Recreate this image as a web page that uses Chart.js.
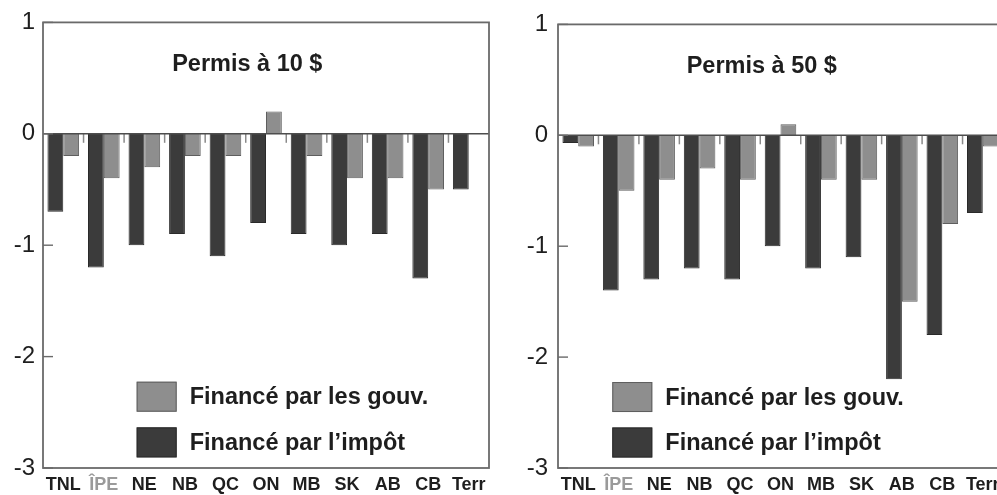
<!DOCTYPE html>
<html>
<head>
<meta charset="utf-8">
<script src="https://cdn.jsdelivr.net/npm/chart.js@4.4.1/dist/chart.umd.min.js"></script>
<style>
  html, body { margin: 0; padding: 0; background: #ffffff; overflow: hidden; }
  body { width: 997px; height: 495px; position: relative; }
  .box { position: absolute; top: 0; height: 495px; }
  #b1 { left: 0; width: 492px; }
  #b2 { left: 500px; width: 506px; }
</style>
</head>
<body>
<div class="box" id="b1"><canvas id="c1"></canvas></div>
<div class="box" id="b2"><canvas id="c2"></canvas></div>
<script>
// ---- data ----
const categories = ['TNL', 'ÎPE', 'NE', 'NB', 'QC', 'ON', 'MB', 'SK', 'AB', 'CB', 'Terr'];
const yTicks = [1, 0, -1, -2, -3];
const seriesLabels = ['Financé par l\u2019impôt', 'Financé par les gouv.'];
const titles = ['Permis à 10 $', 'Permis à 50 $'];

const permis10Impot = [-0.7, -1.2, -1.0, -0.9, -1.1, -0.8, -0.9, -1.0, -0.9, -1.3, -0.5];
const permis10Gouv  = [-0.2, -0.4, -0.3, -0.2, -0.2,  0.2, -0.2, -0.4, -0.4, -0.5,  0.0];
const permis50Impot = [-0.07, -1.4, -1.3, -1.2, -1.3, -1.0, -1.2, -1.1, -2.2, -1.8, -0.7];
const permis50Gouv  = [-0.1, -0.5, -0.4, -0.3, -0.4,  0.1, -0.4, -0.4, -1.5, -0.8, -0.1];

// ---- styles ----
const DARK = '#3b3b3b';
const LIGHT = '#8e8e8e';
const TEXT = '#1e1e1e';
const FONT = "'Liberation Sans', Arial, sans-serif";

const decorPlugin = {
  id: 'decor',
  afterDatasetsDraw(chart, args, opts) {
    const ctx = chart.ctx, a = chart.chartArea;
    const x = chart.scales.x, y = chart.scales.y;
    const line = (x1, y1, x2, y2) => { ctx.beginPath(); ctx.moveTo(x1, y1); ctx.lineTo(x2, y2); ctx.stroke(); };
    ctx.save();
    // category separator ticks at zero
    const y0 = y.getPixelForValue(0);
    ctx.strokeStyle = '#8a8a8a';
    ctx.lineWidth = 1.5;
    for (let i = 1; i < categories.length; i++) {
      const bx = (x.getPixelForValue(i - 1) + x.getPixelForValue(i)) / 2;
      line(bx, y0, bx, y0 + 9);
    }
    // zero line
    ctx.strokeStyle = '#4d4d4d';
    ctx.lineWidth = 1.6;
    line(a.left, y0, a.right, y0);
    // inward y ticks
    ctx.strokeStyle = '#6a6a6a';
    ctx.lineWidth = 1.4;
    yTicks.forEach(v => { const py = y.getPixelForValue(v); line(a.left, py, a.left + 10, py); });
    // frame
    ctx.strokeStyle = '#6a6a6a';
    ctx.lineWidth = 1.8;
    ctx.strokeRect(a.left, a.top, a.right - a.left, a.bottom - a.top);
    // title inside plot
    ctx.fillStyle = TEXT;
    ctx.font = "bold 23.5px " + FONT;
    ctx.textAlign = 'center';
    ctx.textBaseline = 'middle';
    ctx.fillText(opts.title, a.left + (a.right - a.left) * opts.titleFx, y.getPixelForValue(opts.titleY));
    // legend inside plot (gouv first, then impôt)
    const lx = a.left + (a.right - a.left) * opts.legendFx;
    const order = [1, 0];
    ctx.textAlign = 'left';
    ctx.font = "bold 23.5px " + FONT;
    order.forEach((di, k) => {
      const ds = chart.data.datasets[di];
      const cy = y.getPixelForValue(opts.legendY[k]);
      ctx.fillStyle = ds.backgroundColor;
      ctx.fillRect(lx, cy - 15, 40, 30);
      ctx.strokeStyle = ds.borderColor;
      ctx.lineWidth = 1;
      ctx.strokeRect(lx + 0.5, cy - 14.5, 39, 29);
      ctx.fillStyle = TEXT;
      ctx.fillText(ds.label, lx + 53, cy + 1);
    });
    ctx.restore();
  }
};

function makeChart(id, impot, gouv, title, axisWidth, labelPad, legendFx) {
  return new Chart(document.getElementById(id), {
    type: 'bar',
    data: {
      labels: categories,
      datasets: [
        { label: seriesLabels[0], data: impot, backgroundColor: DARK, borderColor: '#2a2a2a', borderWidth: 1 },
        { label: seriesLabels[1], data: gouv, backgroundColor: LIGHT, borderColor: '#5e5e5e', borderWidth: 1 }
      ]
    },
    options: {
      responsive: true,
      maintainAspectRatio: false,
      animation: false,
      layout: { padding: { top: 22, right: 3, bottom: 0, left: 0 } },
      datasets: { bar: { categoryPercentage: 0.78, barPercentage: 1.0 } },
      plugins: {
        legend: { display: false },
        tooltip: { enabled: false },
        decor: { title: title, titleFx: 0.458, titleY: 0.62, legendFx: legendFx, legendY: [-2.36, -2.77] }
      },
      scales: {
        x: {
          grid: { display: false, drawTicks: false },
          border: { display: false },
          ticks: {
            padding: 6,
            maxRotation: 0,
            autoSkip: false,
            color: (c) => (c.index === 1 ? '#9a9a9a' : TEXT),
            font: { family: FONT, size: 18, weight: 'bold' }
          },
          afterFit: (s) => { s.height = 27; }
        },
        y: {
          min: -3, max: 1,
          grid: { display: false, drawTicks: false },
          border: { display: false },
          afterBuildTicks: (s) => { s.ticks = yTicks.map(v => ({ value: v })); },
          ticks: {
            padding: labelPad,
            color: TEXT,
            font: { family: FONT, size: 24 },
            callback: (v) => String(v)
          },
          afterFit: (s) => { s.width = axisWidth; }
        }
      }
    },
    plugins: [decorPlugin]
  });
}

makeChart('c1', permis10Impot, permis10Gouv, titles[0], 43, 8, 0.21);
makeChart('c2', permis50Impot, permis50Gouv, titles[1], 58, 10, 0.122);
</script>
</body>
</html>
